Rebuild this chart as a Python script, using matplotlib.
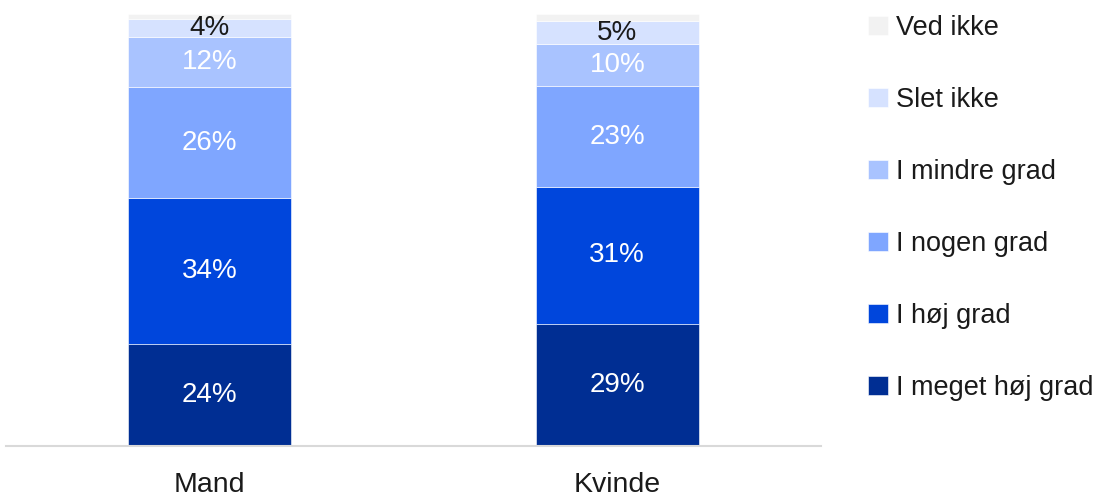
import matplotlib
matplotlib.use("Agg")
import matplotlib.pyplot as plt
import numpy as np

plt.rcParams['font.family'] = ['Liberation Sans', 'DejaVu Sans']

categories = ["Mand", "Kvinde"]
series_names = ["I meget høj grad", "I høj grad", "I nogen grad", "I mindre grad", "Slet ikke", "Ved ikke"]
meget_hoej = [23.7, 28.3]
hoej = [33.6, 31.6]
nogen = [25.8, 23.4]
mindre = [11.6, 9.7]
slet_ikke = [4.2, 5.3]
ved_ikke = [1.1, 1.7]
labels_shown = {
    "I meget høj grad": ["24%", "29%"],
    "I høj grad": ["34%", "31%"],
    "I nogen grad": ["26%", "23%"],
    "I mindre grad": ["12%", "10%"],
    "Slet ikke": ["4%", "5%"],
}

series_values = [meget_hoej, hoej, nogen, mindre, slet_ikke, ved_ikke]
colors = ["#002e93", "#0046dc", "#7fa6ff", "#a9c3ff", "#d6e2ff", "#f2f2f2"]
text_colors = ["white", "white", "white", "white", "#1a1a1a", None]

fig = plt.figure(figsize=(11.12, 4.97), dpi=100)
ax = fig.add_axes([6/1112, 51/497, 815/1112, 432/497])

x = np.arange(len(categories))
bottom = np.zeros(len(categories))
handles = []
for name, vals, col, tcol in zip(series_names, series_values, colors, text_colors):
    vals = np.array(vals)
    bars = ax.bar(x, vals, 0.4, bottom=bottom, color=col, edgecolor="white",
                  linewidth=0.4, label=name)
    handles.append(bars)
    if name in labels_shown:
        for xi, b, v, lab in zip(x, bottom, vals, labels_shown[name]):
            ax.text(xi, b + v / 2, lab, ha="center", va="center",
                    color=tcol, fontsize=20)
    bottom += vals

ax.set_xlim(-0.5, 1.5)
ax.set_ylim(0, 100)
for s in ["top", "right", "left"]:
    ax.spines[s].set_visible(False)
ax.spines["bottom"].set_color("#d9d9d9")
ax.spines["bottom"].set_linewidth(1.5)
ax.set_yticks([])
ax.set_xticks(x)
ax.set_xticklabels(categories, fontsize=20.5, color="#1a1a1a")
ax.tick_params(axis="x", length=0, pad=19)

leg = fig.legend(handles[::-1], series_names[::-1], loc="upper left",
                 bbox_to_anchor=(868/1112, (497-15)/497), frameon=False, fontsize=19.5,
                 handlelength=0.72, handleheight=0.72, handletextpad=0.3,
                 labelspacing=1.70, labelcolor="#1a1a1a", borderaxespad=0, borderpad=0)

fig.savefig("out.png", dpi=100)
